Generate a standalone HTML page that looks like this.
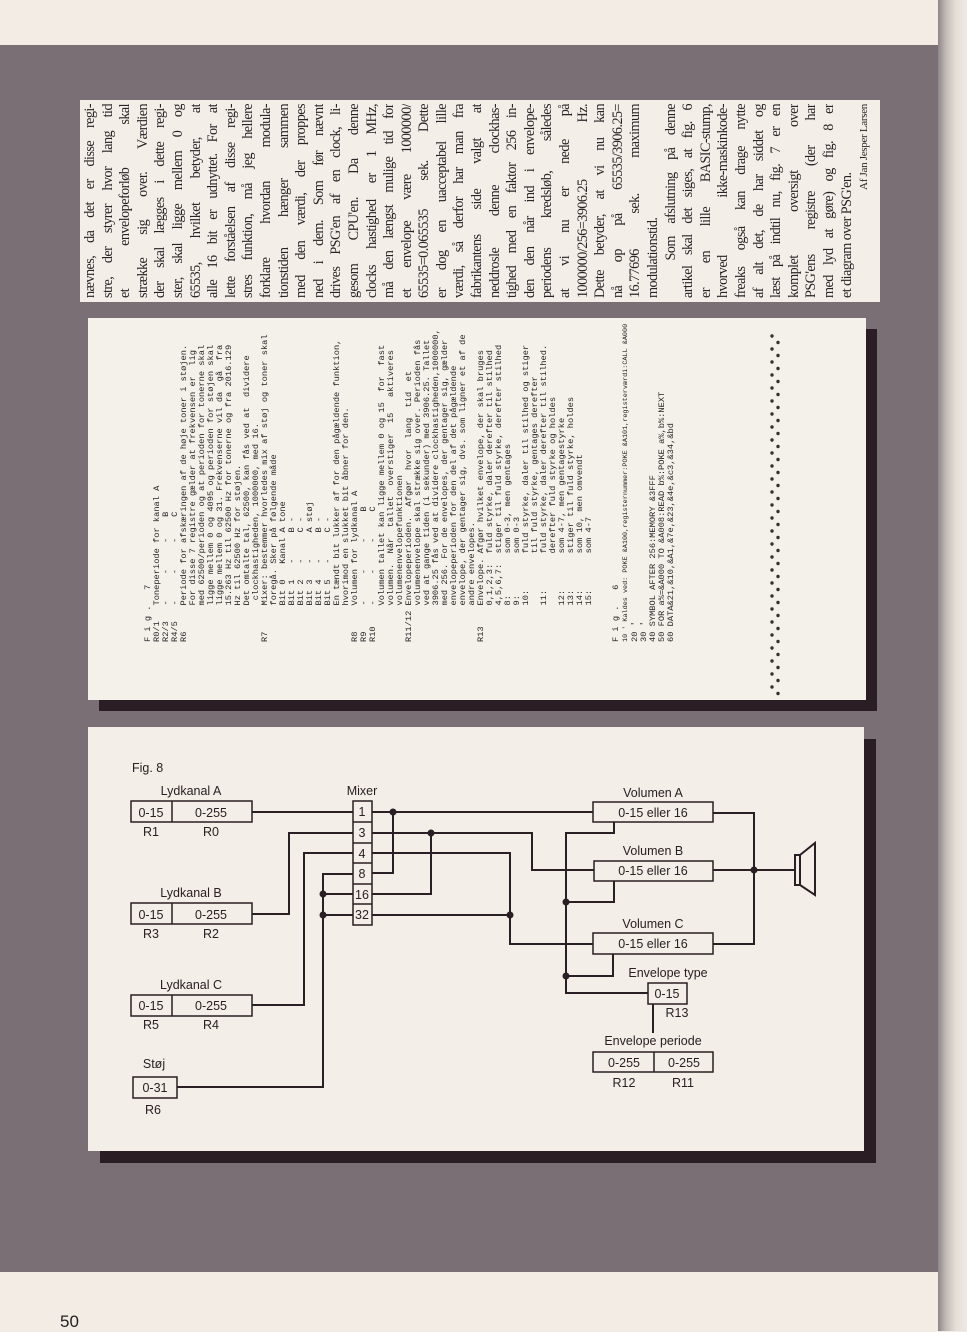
<!DOCTYPE html>
<html><head><meta charset="utf-8">
<style>
html,body{margin:0;padding:0}
body{width:967px;height:1331px;position:relative;overflow:hidden;background:#f2ece4;font-family:"Liberation Sans",sans-serif}
.abs{position:absolute}
#gray{left:0;top:45px;width:938px;height:1227px;background:#7b6f76}
#strip{left:938px;top:0;width:29px;height:1331px;background:linear-gradient(90deg,#8e868a 0,#bdb6b2 25%,#e4ded7 60%,#efe9e2 100%)}
#txtbox{left:80px;top:100px;width:800px;height:202px;background:#f3efe8}
#col{left:82px;top:298px;width:194px;transform-origin:0 0;transform:rotate(-90deg);font-family:"Liberation Serif",serif;font-size:14.2px;letter-spacing:-0.55px;line-height:17.6px;color:#2a2226}
#col div{white-space:nowrap;text-align:justify;text-align-last:justify;overflow:hidden}
#col div.n{text-align-last:left}
#col div.r{text-align-last:right;font-size:11px;letter-spacing:-0.3px}
#lst{left:144px;top:642px;width:330px;transform-origin:0 0;transform:rotate(-90deg);font-family:"Liberation Mono",monospace;font-size:8.7px;line-height:9px;color:#2a2226;white-space:pre;margin:0}
#pg{left:60px;top:1312px;font-size:17px;color:#222}
</style></head><body>
<div class="abs" id="gray"></div>
<div class="abs" id="strip"></div>
<div class="abs" id="txtbox"></div>
<div class="abs" id="col">
<div>nævnes, da det er disse regi-</div>
<div>stre, der styrer hvor lang tid</div>
<div>et envelopeforløb skal</div>
<div>strække sig over. Værdien</div>
<div>der skal lægges i dette regi-</div>
<div>ster, skal ligge mellem 0 og</div>
<div>65535, hvilket betyder, at</div>
<div>alle 16 bit er udnyttet. For at</div>
<div>lette forståelsen af disse regi-</div>
<div>stres funktion, må jeg hellere</div>
<div>forklare hvordan modula-</div>
<div>tionstiden hænger sammen</div>
<div>med den værdi, der proppes</div>
<div>ned i dem. Som før nævnt</div>
<div>drives PSG'en af en clock, li-</div>
<div>gesom CPU'en. Da denne</div>
<div>clocks hastighed er 1 MHz,</div>
<div>må den længst mulige tid for</div>
<div>et envelope være 1000000/</div>
<div>65535=0.065535 sek. Dette</div>
<div>er dog en uacceptabel lille</div>
<div>værdi, så derfor har man fra</div>
<div>fabrikantens side valgt at</div>
<div>neddrosle denne clockhas-</div>
<div>tighed med en faktor 256 in-</div>
<div>den den når ind i envelope-</div>
<div>periodens kredsløb, således</div>
<div>at vi nu er nede på</div>
<div>1000000/256=3906.25 Hz.</div>
<div>Dette betyder, at vi nu kan</div>
<div>nå op på 65535/3906.25=</div>
<div>16.77696 sek. maximum</div>
<div class="n">modulationstid.</div>
<div>&nbsp;&nbsp;&nbsp;Som afslutning på denne</div>
<div>artikel skal det siges, at fig. 6</div>
<div>er en lille BASIC-stump,</div>
<div>hvorved ikke-maskinkode-</div>
<div>freaks også kan drage nytte</div>
<div>af alt det, de har siddet og</div>
<div>læst på indtil nu, fig. 7 er en</div>
<div>komplet oversigt over</div>
<div>PSG'ens registre (der har</div>
<div>med lyd at gøre) og fig. 8 er</div>
<div class="n">et diagram over PSG'en.</div>
<div class="r">Af Jan Jesper Larsen</div>
</div>

<svg class="abs" style="left:0;top:0" width="967" height="1331" viewBox="0 0 967 1331">
<rect x="99" y="329" width="778" height="382" fill="#2b1d24"/>
<rect x="88" y="318" width="778" height="382" fill="#f4f0ea"/>
<rect x="100" y="739" width="776" height="424" fill="#2b1d24"/>
<rect x="88" y="727" width="776" height="424" fill="#f3eee7"/>
<g font-family="Liberation Sans, sans-serif" font-size="12.5" fill="#2a2024" text-anchor="middle">
<text x="132" y="772" text-anchor="start">Fig. 8</text>
<text x="191" y="795">Lydkanal A</text>
<text x="191" y="897">Lydkanal B</text>
<text x="191" y="989">Lydkanal C</text>
<text x="154" y="1068">Støj</text>
<text x="362" y="795">Mixer</text>
<text x="653" y="797">Volumen A</text>
<text x="653" y="855">Volumen B</text>
<text x="653" y="928">Volumen C</text>
<text x="668" y="977">Envelope type</text>
<text x="653" y="1045">Envelope periode</text>
<text x="151" y="817">0-15</text><text x="211" y="817">0-255</text>
<text x="151" y="836">R1</text><text x="211" y="836">R0</text>
<text x="151" y="919">0-15</text><text x="211" y="919">0-255</text>
<text x="151" y="938">R3</text><text x="211" y="938">R2</text>
<text x="151" y="1010">0-15</text><text x="211" y="1010">0-255</text>
<text x="151" y="1029">R5</text><text x="211" y="1029">R4</text>
<text x="155" y="1092">0-31</text>
<text x="153" y="1114">R6</text>
<text x="362" y="816">1</text><text x="362" y="837">3</text><text x="362" y="858">4</text>
<text x="362" y="878">8</text><text x="362" y="899">16</text><text x="362" y="919">32</text>
<text x="653" y="817">0-15 eller 16</text>
<text x="653" y="875">0-15 eller 16</text>
<text x="653" y="948">0-15 eller 16</text>
<text x="667" y="998">0-15</text>
<text x="677" y="1017">R13</text>
<text x="624" y="1067">0-255</text><text x="684" y="1067">0-255</text>
<text x="624" y="1087">R12</text><text x="683" y="1087">R11</text>
</g>
<g fill="none" stroke="#2a1f24" stroke-width="1.5">
<rect x="131" y="801" width="121" height="21"/><line x1="172" y1="801" x2="172" y2="822"/>
<rect x="131" y="903" width="121" height="21"/><line x1="172" y1="903" x2="172" y2="924"/>
<rect x="131" y="995" width="121" height="21"/><line x1="172" y1="995" x2="172" y2="1016"/>
<rect x="133" y="1077" width="44" height="21"/>
<rect x="353" y="801" width="19" height="124"/>
<line x1="353" y1="822" x2="372" y2="822"/><line x1="353" y1="843" x2="372" y2="843"/>
<line x1="353" y1="863" x2="372" y2="863"/><line x1="353" y1="884" x2="372" y2="884"/>
<line x1="353" y1="904" x2="372" y2="904"/>
<rect x="593" y="802" width="120" height="20"/>
<rect x="594" y="861" width="119" height="20"/>
<rect x="593" y="933" width="120" height="21"/>
<rect x="648" y="983" width="39" height="21"/>
<rect x="593" y="1052" width="120" height="20"/><line x1="654" y1="1052" x2="654" y2="1072"/>
</g>
<g fill="none" stroke="#2a1f24" stroke-width="2">
<polyline points="252,812 353,812"/>
<polyline points="372,812 593,812"/>
<polyline points="393,812 393,873 372,873"/>
<polyline points="372,833 532,833 532,870 594,870"/>
<polyline points="431,833 431,894 372,894"/>
<polyline points="353,833 289,833 289,914 252,914"/>
<polyline points="353,853 304,853 304,1005 252,1005"/>
<polyline points="372,853 510,853 510,944 593,944"/>
<polyline points="372,915 510,915"/>
<polyline points="353,874 323,874 323,1087 177,1087"/>
<polyline points="323,894 353,894"/>
<polyline points="323,915 353,915"/>
<polyline points="614,822 614,833 566,833 566,993 648,993"/>
<polyline points="614,881 614,902 566,902"/>
<polyline points="613,954 613,976 566,976"/>
<polyline points="713,813 754,813 754,944 713,944"/>
<polyline points="713,870 795,870"/>
<line x1="653" y1="1004" x2="653" y2="1033"/>
<rect x="795" y="855" width="5" height="30"/>
<polygon points="800,855 815,843 815,895 800,885"/>
</g>
<g fill="#2a1f24">
<circle cx="393" cy="812" r="3.5"/><circle cx="431" cy="833" r="3.5"/>
<circle cx="510" cy="915" r="3.5"/><circle cx="323" cy="894" r="3.5"/>
<circle cx="323" cy="915" r="3.5"/><circle cx="566" cy="902" r="3.5"/>
<circle cx="566" cy="976" r="3.5"/><circle cx="754" cy="870" r="3.5"/>
</g>
</svg>

<pre class="abs" id="lst">F i g .   7
R0/1   Toneperiode for kanal A
R2/3   -     -     -    B
R4/5   -     -     -    C
R6     Periode for afskæringen af de høje toner i støjen.
       For disse 7 registre gælder at frekvensen er  lig
       med 62500/perioden og at perioden for tonerne skal
       ligge mellem 0 og 4095 og perioden for støjen skal
       ligge mellem 0 og 31. Frekvenserne vil da  gå  fra
       15.263 Hz til 62500 Hz for tonerne og fra 2016.129
       Hz til 62500 Hz for støjen.
       Det omtalte tal, 62500, kan fås ved at  dividere
        clockhastigheden, 1000000, med 16.
R7     Mixer: bestemmer hvorledes mix af støj og toner skal
       foregå. Sker på følgende måde
       Bit 0   Kanal A tone
       Bit 1   -     B -
       Bit 2   -     C -
       Bit 3   -     A støj
       Bit 4   -     B -
       Bit 5   -     C -
       En tændt bit lukker af for den pågældende funktion,
       hvorimod en slukket bit åbner for den.
R8     Volumen for lydkanal A
R9     -     -     -     B
R10    -     -     -     C
       Volumen tallet kan ligge mellem 0 og 15  for  fast
       volumen.  Når  tallet  overstiger  15   aktiveres
       volumenenvelopefunktionen
R11/12 Envelopeperioden.  Afgør  hvor  lang  tid  et
       volumenenvelope skal strække sig over. Perioden fås
       ved at gange tiden (i sekunder) med 3906.25. Tallet
       3906.25 fås ved at dividere clockhastigheden,1000000,
       med 256. For de envelopes, der gentager sig, gælder
       envelopeperioden for den del af det pågældende
       envelope, der gentager sig, dvs. som ligner et af de
       andre envelopes.
R13    Envelope. Afgør hvilket envelope, der skal bruges
       0,1,2,3:  fuld styrke, daler derefter til stilhed
       4,5,6,7:  stiger til fuld styrke, derefter stilhed
       8:        som 0-3, men gentages
       9:        som 0-3
       10:       fuld styrke, daler til stilhed og stiger
                 til fuld styrke, gentages derefter
       11:       fuld styrke, daler derefter til stilhed.
                 derefter fuld styrke og holdes
       12:       som 4-7, men gentagestyrke
       13:       stiger til fuld styrke, holdes
       14:       som 10, men omvendt
       15:       som 4-7


F i g .   6
<span style="font-size:6.8px">10 ' Kaldes ved: POKE &A100,registernummer:POKE &A101,registerværdi:CALL &A000</span>
20 '
30 '
40 SYMBOL AFTER 256:MEMORY &3FFF
50 FOR a%=&A000 TO &A008:READ b%:POKE a%,b%:NEXT
60 DATA&21,&10,&A1,&7e,&23,&4e,&c3,&34,&bd</pre>

<svg class="abs" style="left:766px;top:330px" width="18" height="372" viewBox="0 0 18 372">
<g fill="#3a2e33">
<circle cx="6" cy="6" r="1.7"/><circle cx="12" cy="12.5" r="1.7"/><circle cx="6" cy="19" r="1.7"/><circle cx="12" cy="25.5" r="1.7"/><circle cx="6" cy="32" r="1.7"/><circle cx="12" cy="38.5" r="1.7"/><circle cx="6" cy="45" r="1.7"/><circle cx="12" cy="51.5" r="1.7"/><circle cx="6" cy="58" r="1.7"/><circle cx="12" cy="64.5" r="1.7"/><circle cx="6" cy="71" r="1.7"/><circle cx="12" cy="77.5" r="1.7"/><circle cx="6" cy="84" r="1.7"/><circle cx="12" cy="90.5" r="1.7"/><circle cx="6" cy="97" r="1.7"/><circle cx="12" cy="103.5" r="1.7"/><circle cx="6" cy="110" r="1.7"/><circle cx="12" cy="116.5" r="1.7"/><circle cx="6" cy="123" r="1.7"/><circle cx="12" cy="129.5" r="1.7"/><circle cx="6" cy="136" r="1.7"/><circle cx="12" cy="142.5" r="1.7"/><circle cx="6" cy="149" r="1.7"/><circle cx="12" cy="155.5" r="1.7"/><circle cx="6" cy="162" r="1.7"/><circle cx="12" cy="168.5" r="1.7"/><circle cx="6" cy="175" r="1.7"/><circle cx="12" cy="181.5" r="1.7"/><circle cx="6" cy="188" r="1.7"/><circle cx="12" cy="194.5" r="1.7"/><circle cx="6" cy="201" r="1.7"/><circle cx="12" cy="207.5" r="1.7"/><circle cx="6" cy="214" r="1.7"/><circle cx="12" cy="220.5" r="1.7"/><circle cx="6" cy="227" r="1.7"/><circle cx="12" cy="233.5" r="1.7"/><circle cx="6" cy="240" r="1.7"/><circle cx="12" cy="246.5" r="1.7"/><circle cx="6" cy="253" r="1.7"/><circle cx="12" cy="259.5" r="1.7"/><circle cx="6" cy="266" r="1.7"/><circle cx="12" cy="272.5" r="1.7"/><circle cx="6" cy="279" r="1.7"/><circle cx="12" cy="285.5" r="1.7"/><circle cx="6" cy="292" r="1.7"/><circle cx="12" cy="298.5" r="1.7"/><circle cx="6" cy="305" r="1.7"/><circle cx="12" cy="311.5" r="1.7"/><circle cx="6" cy="318" r="1.7"/><circle cx="12" cy="324.5" r="1.7"/><circle cx="6" cy="331" r="1.7"/><circle cx="12" cy="337.5" r="1.7"/><circle cx="6" cy="344" r="1.7"/><circle cx="12" cy="350.5" r="1.7"/><circle cx="6" cy="357" r="1.7"/><circle cx="12" cy="363.5" r="1.7"/>
</g></svg>

<div class="abs" id="pg">50</div>
</body></html>
